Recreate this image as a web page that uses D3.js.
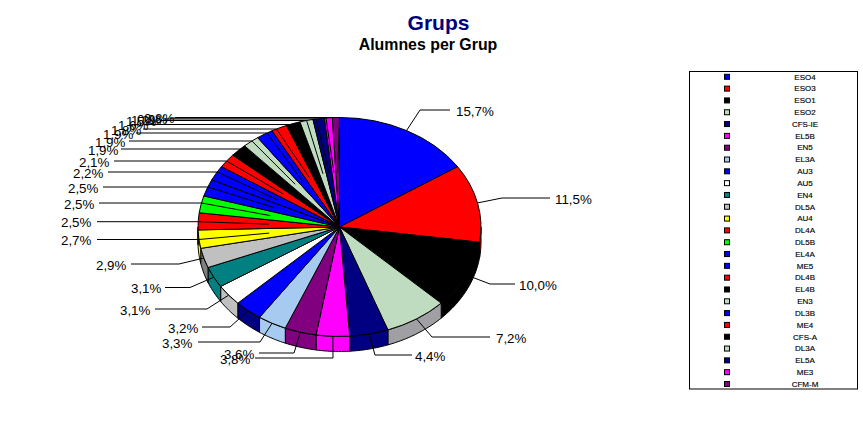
<!DOCTYPE html>
<html><head><meta charset="utf-8">
<style>html,body{margin:0;padding:0;background:#fff}svg{display:block}
text{font-family:"Liberation Sans",Arial,sans-serif}</style>
<script src="https://cdnjs.cloudflare.com/ajax/libs/d3/7.8.5/d3.min.js"></script>
</head><body><svg id="c" width="863" height="431"></svg>
<script>
const categories=["ESO4","ESO3","ESO1","ESO2","CFS-IE","EL5B","EN5","EL3A","AU3","AU5","EN4","DL5A","AU4","DL4A","DL5B","EL4A","ME5","DL4B","EL4B","EN3","DL3B","ME4","CFS-A","DL3A","EL5A","ME3","CFM-M"];
const values=[15.7,11.5,10.0,7.2,4.4,3.8,3.6,3.3,3.2,3.1,3.1,2.9,2.7,2.5,2.5,2.5,2.2,2.1,1.9,1.9,1.9,1.8,1.6,1.5,1.3,0.9,0.8];
const sliceColors=["#0000ff","#ff0000","#000000","#c0dcc0","#000080","#ff00ff","#800080","#a6caf0","#0000ff","#ffffff","#008080","#c0c0c0","#ffff00","#ff0000","#00ff00","#0000ff","#0000ff","#ff0000","#000000","#c0dcc0","#0000ff","#ff0000","#000000","#c0dcc0","#000080","#ff00ff","#800080"];
const sideColors=["#000080","#ff0000","#000000","#a0a0a4","#000080","#ff00ff","#800080","#a6caf0","#000080","#c0c0c0","#008080","#808080","#ffff00","#ff0000"];
// hand-placed annotation layout for the data labels (index = slice)
const labelTextX=[456,555,519,496,415,220,224,162,168,120,131,96,61,61,64,68,73,79,88,95,103,111,118,126,131,137,144];
const labelRowY=[110,198,284,337,355,358,353,342,327,309,287.5,264,239.5,221.7,203,187,172,161,149,141,133,129,124.5,120.5,119,118,117.5];
const leaderEndX=[450,550,515,490,412,255,259,198,202,155,165,131,97,97,99,103,108,114,121,129,136,143,147,160,165,170,175];
const elbowX=[420,502,490,432,375,333,294,260,230,207,190,179];

const cx=339.5,cy=227,rx=141.5,ry=109.5,depth=15;
const svg=d3.select("#c");
const pie=d3.pie().sort(null).value(d=>d)(values);
const ex=(a,k=1)=>cx+rx*k*Math.sin(a), ey=(a,k=1)=>cy-ry*k*Math.cos(a);

// side wall of the pie
const wallGroup=svg.append("g");
const bottomStart=Math.PI/2,bottomEnd=3*Math.PI/2;
const wallLine=d3.line();
pie.forEach((p,i)=>{
  const a0=Math.max(p.startAngle,bottomStart),a1=Math.min(p.endAngle,bottomEnd);
  if(a1<=a0)return;
  const n=Math.max(2,Math.ceil((a1-a0)/0.02));
  const as=d3.range(n+1).map(j=>a0+(a1-a0)*j/n);
  const pts=as.map(a=>[ex(a),ey(a)]).concat(as.slice().reverse().map(a=>[ex(a),ey(a)+depth]));
  wallGroup.append("path").attr("d",wallLine(pts)+"Z").attr("fill",sideColors[i]||sliceColors[i]).attr("stroke","#000").attr("stroke-width",1);
});
// top face
const arc=d3.arc().innerRadius(0).outerRadius(rx);
const topFace=svg.append("g").attr("transform",`translate(${cx},${cy}) scale(1,${ry/rx})`);
topFace.selectAll("path").data(pie).join("path").attr("d",arc)
  .attr("fill",(d,i)=>sliceColors[i]).attr("stroke","#000").attr("stroke-width",1)
  .attr("vector-effect","non-scaling-stroke");

// leaders and labels
const leaders=svg.append("g");
const fmt=v=>v.toFixed(1).replace(".",",")+"%";
const mid=p=>(p.startAngle+p.endAngle)/2;
pie.forEach((p,i)=>{
  const a=mid(p),y=labelRowY[i];
  const inner=i>=12;
  const start=inner?[ex(a,.5),ey(a,.5)]:[ex(a),ey(a)];
  const t=Math.min(1,Math.abs((y-cy)/ry));
  const elbow=inner?cx-rx*Math.sqrt(1-t*t):elbowX[i];
  leaders.append("path").attr("fill","none").attr("stroke","#000").attr("stroke-width",1)
    .attr("d",d3.line()([start,[elbow,y],[leaderEndX[i],y]]));
});
pie.forEach((p,i)=>{
  svg.append("text").attr("x",labelTextX[i]).attr("y",labelRowY[i]+5.5).attr("font-size",13.33).attr("fill","#000").text(fmt(values[i]));
});

// titles
svg.append("text").attr("x",438.5).attr("y",29.5).attr("text-anchor","middle").attr("font-size",21).attr("font-weight","bold").attr("fill","#000080").text("Grups");
svg.append("text").attr("x",428).attr("y",49.5).attr("text-anchor","middle").attr("font-size",15.9).attr("font-weight","bold").attr("fill","#000").text("Alumnes per Grup");

// legend
svg.append("rect").attr("x",689.5).attr("y",71.5).attr("width",168).attr("height",317.5).attr("fill","#fff").attr("stroke","#000");
const ly=d3.scalePoint().domain(categories).range([76.8,384]);
categories.forEach((c,i)=>{
  svg.append("rect").attr("x",724.5).attr("y",ly(c)-2.5).attr("width",5).attr("height",5).attr("fill",sliceColors[i]).attr("stroke","#000");
  svg.append("text").attr("x",805).attr("y",ly(c)+2.8).attr("text-anchor","middle").attr("font-size",8).attr("fill","#000").attr("stroke","#000").attr("stroke-width",0.15).text(c);
});
</script></body></html>
